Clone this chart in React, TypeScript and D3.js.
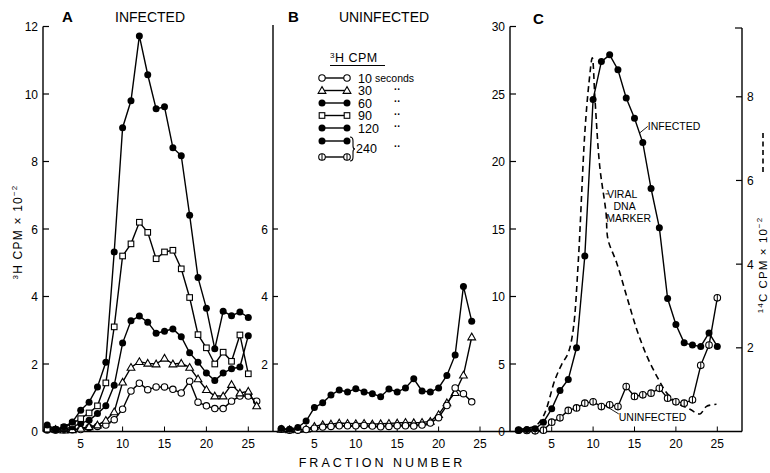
import React from "react";
import * as d3 from "d3";

// ---------- data ----------
// Panel A: infected, 3H CPM x 10^-2, fractions start at 1
const a10 = [0.1, 0.05, 0.05, 0.05, 0.06, 0.12, 0.15, 0.19, 0.35, 0.66, 1.2, 1.43, 1.24, 1.32, 1.32, 1.25, 1.14, 1.49, 0.87, 0.76, 0.68, 0.68, 0.9, 1.05, 1.05, 0.9];
const a30 = [0.1, 0.06, 0.04, 0.05, 0.09, 0.14, 0.19, 0.33, 0.58, 1.46, 1.9, 2.07, 2.02, 2.0, 2.17, 2.0, 2.02, 1.9, 1.56, 1.24, 1.05, 1.05, 1.39, 1.14, 1.19, 0.76];
const a60 = [0.04, 0.04, 0.06, 0.14, 0.24, 0.33, 0.53, 0.76, 1.37, 2.62, 3.28, 3.42, 3.24, 2.91, 2.97, 3.04, 2.81, 2.33, 2.05, 1.73, 1.51, 1.73, 1.86, 1.91, 2.84];
const a90 = [0.07, 0.05, 0.12, 0.24, 0.38, 0.55, 0.76, 1.44, 3.1, 5.2, 5.56, 6.2, 5.9, 5.12, 5.32, 5.37, 4.82, 3.97, 2.87, 2.48, 2.0, 2.35, 2.08, 2.86, 1.71];
const a120 = [0.19, 0.07, 0.14, 0.28, 0.63, 0.87, 1.32, 2.05, 5.32, 9.0, 9.8, 11.72, 10.57, 9.56, 9.62, 8.41, 8.17, 6.41, 4.56, 3.65, 2.45, 3.56, 3.43, 3.54, 3.38];

// Panel B: uninfected
const b10 = [0.07, 0.04, 0.04, 0.06, 0.1, 0.13, 0.15, 0.17, 0.17, 0.17, 0.18, 0.16, 0.14, 0.15, 0.17, 0.17, 0.16, 0.19, 0.25, 0.41, 0.77, 1.29, 1.12, 0.88];
const b30 = [0.06, 0.05, 0.06, 0.07, 0.15, 0.2, 0.22, 0.25, 0.24, 0.23, 0.24, 0.22, 0.23, 0.24, 0.25, 0.27, 0.26, 0.27, 0.3, 0.5, 0.85, 1.15, 1.67, 2.8];
const b120 = [0.09, 0.07, 0.12, 0.31, 0.71, 0.85, 1.08, 1.23, 1.17, 1.27, 1.17, 1.12, 1.03, 1.26, 1.17, 1.29, 1.56, 1.2, 1.17, 1.29, 1.66, 2.27, 4.3, 3.27];

// Panel C: 240 s
const cInfected = [0.1, 0.15, 0.2, 0.69, 1.68, 3.04, 3.85, 6.2, 13.0, 24.6, 27.4, 27.9, 26.8, 24.7, 23.2, 21.4, 18.0, 15.1, 9.85, 7.93, 6.57, 6.4, 6.3, 7.3, 6.3];
const cUninfected = [0.1, 0.08, 0.05, 0.1, 0.69, 1.01, 1.56, 1.75, 2.1, 2.2, 1.85, 1.98, 1.85, 3.33, 2.6, 2.72, 2.84, 3.2, 2.47, 2.2, 2.1, 2.35, 4.9, 6.4, 9.9];
// viral DNA marker, 14C CPM x 10^-2 (dashed)
const markerFraction = [1, 3, 4, 5.4, 6.2, 7.0, 7.6, 8.2, 9.0, 9.5, 9.9, 10.23, 10.8, 11.56, 11.8, 12.85, 14.06, 15.27, 16.5, 17.7, 18.9, 20.1, 21.7, 22.9, 23.7, 24.9];
const markerValue = [0.05, 0.13, 0.37, 1.24, 1.6, 1.88, 2.44, 4.03, 7.14, 8.33, 8.93, 7.93, 6.34, 5.23, 4.59, 4.03, 3.23, 2.44, 1.8, 1.32, 0.92, 0.69, 0.53, 0.42, 0.6, 0.65];

// ticks
const xTicks = [5, 10, 15, 20, 25];
const yTicksA = [0, 2, 4, 6, 8, 10, 12];
const yTicksB = [2, 4, 6];
const yTicksCL = [0, 5, 10, 15, 20, 25, 30];
const yTicksCR = [2, 4, 6, 8];

// legend
const legendLabels = ["10", "30", "60", "90", "120"];
const legendTypes = ["open", "tri", "filled", "square", "filled"];

// ---------- scales ----------
const Y0 = 431.5;
const YT = 26.5;
const yA = d3.scaleLinear().domain([0, 12]).range([Y0, YT]);
const yCL = d3.scaleLinear().domain([0, 30]).range([Y0, YT]);
const yCR = d3.scaleLinear().domain([0, 9.68]).range([Y0, YT]);
const xA = d3.scaleLinear().domain([0, 25]).range([38.8, 38.8 + 25 * 8.38]);
const xB = d3.scaleLinear().domain([0, 25]).range([273, 273 + 25 * 8.28]);
const xC = d3.scaleLinear().domain([0, 25]).range([510.3, 510.3 + 25 * 8.28]);

const FONT = "'Liberation Sans', Arial, sans-serif";
const SW = 1.4;

function Marker({ type, x, y }: { type: string; x: number; y: number }) {
  if (type === "filled") return <circle cx={x} cy={y} r={3.5} fill="#000" />;
  if (type === "open")
    return <circle cx={x} cy={y} r={3.2} fill="#fff" stroke="#000" strokeWidth={1.1} />;
  if (type === "square")
    return <rect x={x - 2.8} y={y - 2.8} width={5.6} height={5.6} fill="#fff" stroke="#000" strokeWidth={1.1} />;
  if (type === "tri") {
    const s = d3.symbol().type(d3.symbolTriangle).size(26)();
    return <path d={s || ""} transform={`translate(${x},${y + 0.6})`} fill="#fff" stroke="#000" strokeWidth={1.1} />;
  }
  // theta: circle with vertical bar
  return (
    <g>
      <circle cx={x} cy={y} r={3.3} fill="#fff" stroke="#000" strokeWidth={1.1} />
      <line x1={x} x2={x} y1={y - 3.3} y2={y + 3.3} stroke="#000" strokeWidth={1} />
    </g>
  );
}

function Series({
  values,
  xs,
  ys,
  type,
}: {
  values: number[];
  xs: d3.ScaleLinear<number, number>;
  ys: d3.ScaleLinear<number, number>;
  type: string;
}) {
  const pts = values.map((v, i) => [xs(i + 1), ys(v)] as [number, number]);
  const line = d3.line()(pts) || "";
  return (
    <g>
      <path d={line} fill="none" stroke="#000" strokeWidth={SW} />
      {pts.map((p, i) => (
        <Marker key={i} type={type} x={p[0]} y={p[1]} />
      ))}
    </g>
  );
}

export default function App() {
  const markerPts = markerFraction.map((f, i) => [xC(f), yCR(markerValue[i])] as [number, number]);
  const markerPath = d3.line().curve(d3.curveCatmullRom.alpha(0.5))(markerPts) || "";

  const tickLabelStyle = { fontFamily: FONT, fontSize: 12, fill: "#000" } as const;

  const legendY = [78, 90.5, 103, 115.5, 128];

  return (
    <svg width={770} height={473} style={{ position: "absolute", left: 0, top: 0, background: "#fff" }}>
      <rect x={0} y={0} width={770} height={473} fill="#fff" />

      {/* x axis baseline */}
      <line x1={43} x2={742} y1={Y0} y2={Y0} stroke="#000" strokeWidth={1.4} />

      {/* x ticks and labels */}
      {[xA, xB, xC].map((xs, pi) =>
        xTicks.map((t) => (
          <g key={`${pi}-${t}`}>
            <line x1={xs(t)} x2={xs(t)} y1={Y0} y2={Y0 - 5} stroke="#000" strokeWidth={1} />
            <text x={xs(t)} y={448} textAnchor="middle" {...tickLabelStyle}>
              {t}
            </text>
          </g>
        ))
      )}

      {/* Panel A y axis */}
      <line x1={43} x2={43} y1={yA(12)} y2={Y0} stroke="#000" strokeWidth={1.4} />
      {yTicksA.map((t) => (
        <g key={`ya${t}`}>
          <line x1={43} x2={49} y1={yA(t)} y2={yA(t)} stroke="#000" strokeWidth={1.2} />
          <text x={38} y={yA(t) + 4.5} textAnchor="end" {...tickLabelStyle}>
            {t}
          </text>
        </g>
      ))}

      {/* Panel B y axis */}
      <line x1={273} x2={273} y1={25} y2={Y0} stroke="#000" strokeWidth={1.4} />
      {yTicksB.map((t) => (
        <g key={`yb${t}`}>
          <line x1={273} x2={278} y1={yA(t)} y2={yA(t)} stroke="#000" strokeWidth={1.2} />
          <text x={268} y={yA(t) + 4.5} textAnchor="end" {...tickLabelStyle}>
            {t}
          </text>
        </g>
      ))}

      {/* Panel C left axis */}
      <line x1={510} x2={510} y1={yCL(30)} y2={Y0} stroke="#000" strokeWidth={1.4} />
      {yTicksCL.map((t) => (
        <g key={`ycl${t}`}>
          <line x1={510} x2={516} y1={yCL(t)} y2={yCL(t)} stroke="#000" strokeWidth={1.2} />
          <text x={505} y={yCL(t) + 4.5} textAnchor="end" {...tickLabelStyle}>
            {t}
          </text>
        </g>
      ))}

      {/* Panel C right axis */}
      <line x1={742} x2={742} y1={28} y2={Y0} stroke="#000" strokeWidth={1.4} />
      <line x1={735} x2={742} y1={28} y2={28} stroke="#000" strokeWidth={1.2} />
      {yTicksCR.map((t) => (
        <g key={`ycr${t}`}>
          <line x1={736} x2={742} y1={yCR(t)} y2={yCR(t)} stroke="#000" strokeWidth={1.2} />
          <text x={747} y={yCR(t) + 4.5} textAnchor="start" {...tickLabelStyle}>
            {t}
          </text>
        </g>
      ))}

      {/* Panel titles */}
      <text x={62} y={22} fontFamily={FONT} fontSize={15} fontWeight="bold">A</text>
      <text x={150} y={22} textAnchor="middle" fontFamily={FONT} fontSize={14}>INFECTED</text>
      <text x={288} y={22} fontFamily={FONT} fontSize={15} fontWeight="bold">B</text>
      <text x={384} y={22} textAnchor="middle" fontFamily={FONT} fontSize={14}>UNINFECTED</text>
      <text x={533} y={24} fontFamily={FONT} fontSize={15} fontWeight="bold">C</text>

      {/* Y axis label left */}
      <text
        transform="translate(22,232) rotate(-90)"
        textAnchor="middle"
        fontFamily={FONT}
        fontSize={12}
        letterSpacing={1.2}
      >
        <tspan fontSize={8} dy={-4}>3</tspan>
        <tspan dy={4}>H CPM × 10</tspan>
        <tspan fontSize={8} dy={-5}>−2</tspan>
      </text>

      {/* Y axis label right */}
      <text
        transform="translate(767,265) rotate(-90)"
        textAnchor="middle"
        fontFamily={FONT}
        fontSize={11.5}
        letterSpacing={1.1}
      >
        <tspan fontSize={8} dy={-4}>14</tspan>
        <tspan dy={4}>C CPM × 10</tspan>
        <tspan fontSize={8} dy={-5}>−2</tspan>
      </text>
      <line x1={763} x2={763} y1={172} y2={130} stroke="#000" strokeWidth={1.6} strokeDasharray="5,3.5" />

      {/* x axis title */}
      <text x={382} y={467} textAnchor="middle" fontFamily={FONT} fontSize={12.5} letterSpacing={3}>
        FRACTION NUMBER
      </text>

      {/* Panel A series */}
      <Series values={a10} xs={xA} ys={yA} type="open" />
      <Series values={a30} xs={xA} ys={yA} type="tri" />
      <Series values={a60} xs={xA} ys={yA} type="filled" />
      <Series values={a90} xs={xA} ys={yA} type="square" />
      <Series values={a120} xs={xA} ys={yA} type="filled" />

      {/* Panel B series */}
      <Series values={b30} xs={xB} ys={yA} type="tri" />
      <Series values={b10} xs={xB} ys={yA} type="open" />
      <Series values={b120} xs={xB} ys={yA} type="filled" />

      {/* Panel C */}
      <path d={markerPath} fill="none" stroke="#000" strokeWidth={1.6} strokeDasharray="6,4" />
      <Series values={cUninfected} xs={xC} ys={yCL} type="theta" />
      <Series values={cInfected} xs={xC} ys={yCL} type="filled" />

      {/* Panel C annotations */}
      <line x1={xC(15.6)} y1={yCL(22.1)} x2={xC(16.6)} y2={yCL(22.6)} stroke="#000" strokeWidth={0.9} />
      <text x={xC(16.6)} y={yCL(22.3)} fontFamily={FONT} fontSize={10.5}>INFECTED</text>
      <line x1={xC(11.5)} y1={yCL(17.6)} x2={xC(11.9)} y2={yCL(17.6)} stroke="#000" strokeWidth={0.9} />
      <text x={xC(13.5)} y={yCL(17.3)} textAnchor="middle" fontFamily={FONT} fontSize={10.5}>VIRAL</text>
      <text x={xC(13.8)} y={yCL(16.4)} textAnchor="middle" fontFamily={FONT} fontSize={10.5}>DNA</text>
      <text x={xC(14.3)} y={yCL(15.5)} textAnchor="middle" fontFamily={FONT} fontSize={10.5}>MARKER</text>
      <line x1={xC(11.5)} y1={yCL(1.9)} x2={xC(13.1)} y2={yCL(1.3)} stroke="#000" strokeWidth={0.9} />
      <text x={xC(13.1)} y={yCL(0.75)} fontFamily={FONT} fontSize={10.5}>UNINFECTED</text>

      {/* Legend */}
      <text x={330} y={62} fontFamily={FONT} fontSize={12.5} letterSpacing={0.5}>
        <tspan fontSize={8} dy={-4}>3</tspan>
        <tspan dy={4}>H  CPM</tspan>
      </text>
      <line x1={330} x2={385} y1={65.5} y2={65.5} stroke="#000" strokeWidth={1.2} />
      {legendLabels.map((lab, i) => (
        <g key={`lg${i}`}>
          <line x1={322} x2={347} y1={legendY[i]} y2={legendY[i]} stroke="#000" strokeWidth={SW} />
          <Marker type={legendTypes[i]} x={322} y={legendY[i]} />
          <Marker type={legendTypes[i]} x={347} y={legendY[i]} />
          <text x={358} y={legendY[i] + 4.5} fontFamily={FONT} fontSize={12.5}>{lab}</text>
          {i === 0 ? (
            <text x={375} y={legendY[i] + 4} fontFamily={FONT} fontSize={10.5}>seconds</text>
          ) : (
            <text x={394} y={legendY[i] + 2} fontFamily={FONT} fontSize={10} fontWeight="bold" fill="#000">··</text>
          )}
        </g>
      ))}
      {/* 240 group */}
      <line x1={322} x2={347} y1={141} y2={141} stroke="#000" strokeWidth={SW} />
      <Marker type="filled" x={322} y={141} />
      <Marker type="filled" x={347} y={141} />
      <line x1={322} x2={347} y1={157} y2={157} stroke="#000" strokeWidth={SW} />
      <Marker type="theta" x={322} y={157} />
      <Marker type="theta" x={347} y={157} />
      <path d="M350,137 Q353,137 353,141 L353,146 Q353,149 355,149 Q353,149 353,152 L353,157 Q353,161 350,161" fill="none" stroke="#000" strokeWidth={1.1} />
      <text x={356} y={153} fontFamily={FONT} fontSize={12.5}>240</text>
      <text x={394} y={150} fontFamily={FONT} fontSize={10} fontWeight="bold" fill="#000">··</text>
    </svg>
  );
}
